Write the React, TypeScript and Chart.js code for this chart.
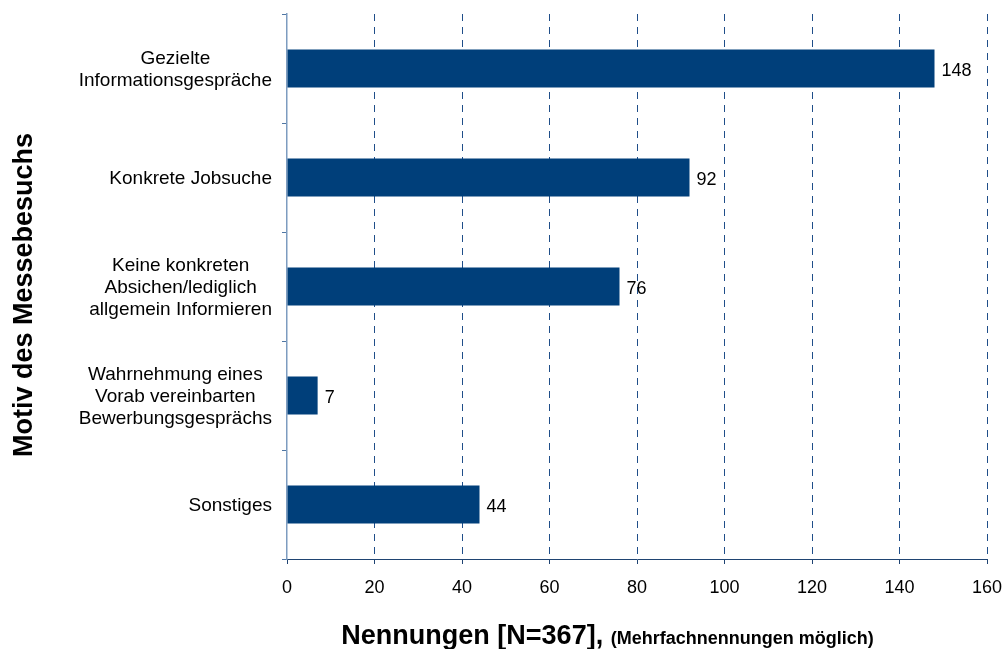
import React, { useEffect, useRef } from "react";
import { Chart, registerables } from "chart.js";

Chart.register(...registerables);

const categories: string[][] = [
  ["Gezielte", "Informationsgespräche"],
  ["Konkrete Jobsuche"],
  ["Keine konkreten", "Absichen/lediglich", "allgemein Informieren"],
  ["Wahrnehmung eines", "Vorab vereinbarten", "Bewerbungsgesprächs"],
  ["Sonstiges"],
];
const values: number[] = [148, 92, 76, 7, 44];
const xMin = 0;
const xMax = 160;
const xStep = 20;
const xTitleMain = "Nennungen [N=367],";
const xTitleNote = "(Mehrfachnennungen möglich)";
const yTitle = "Motiv des Messebesuchs";

const FONT = '"Liberation Sans", Arial, sans-serif';
const BAR = "#003F7A";

const overlay = {
  id: "overlay",
  afterDraw(chart: any) {
    const ctx = chart.ctx as CanvasRenderingContext2D;
    const yScale = chart.scales.y;
    ctx.save();
    ctx.fillStyle = "#000";

    // category labels: block right-aligned, lines centered
    ctx.font = `19px ${FONT}`;
    ctx.textBaseline = "middle";
    ctx.textAlign = "center";
    const rightEdge = 272;
    const lh = 22;
    categories.forEach((lines, i) => {
      const yc = yScale.getPixelForValue(i);
      const w = Math.max(...lines.map((l) => ctx.measureText(l).width));
      const cx = rightEdge - w / 2;
      const y0 = yc - ((lines.length - 1) * lh) / 2;
      lines.forEach((l, j) => ctx.fillText(l, cx, y0 + j * lh + 1));
    });

    // data labels
    ctx.font = `18px ${FONT}`;
    ctx.textAlign = "left";
    const meta = chart.getDatasetMeta(0);
    meta.data.forEach((bar: any, i: number) => {
      ctx.fillText(String(values[i]), bar.x + 7, bar.y + 3);
    });

    // x title (mixed sizes)
    const bigFont = `bold 27px ${FONT}`;
    const smallFont = `bold 18px ${FONT}`;
    ctx.font = bigFont;
    const wBig = ctx.measureText(xTitleMain + " ").width;
    ctx.font = smallFont;
    const wSmall = ctx.measureText(xTitleNote).width;
    const startX = 607.5 - (wBig + wSmall) / 2;
    ctx.textBaseline = "alphabetic";
    ctx.font = bigFont;
    ctx.fillText(xTitleMain + " ", startX, 644);
    ctx.font = smallFont;
    ctx.fillText(xTitleNote, startX + wBig, 644);

    // y title
    ctx.translate(25, 295);
    ctx.rotate(-Math.PI / 2);
    ctx.font = `bold 27px ${FONT}`;
    ctx.textAlign = "center";
    ctx.textBaseline = "middle";
    ctx.fillText(yTitle, 0, 0);
    ctx.restore();
  },
};

export default function App() {
  const ref = useRef<HTMLCanvasElement | null>(null);
  useEffect(() => {
    if (!ref.current) return;
    const chart = new Chart(ref.current, {
      type: "bar",
      data: {
        labels: categories.map((c) => c.join(" ")),
        datasets: [
          {
            data: values,
            backgroundColor: BAR,
            borderWidth: 0,
            barPercentage: 0.35,
            categoryPercentage: 1,
          },
        ],
      },
      options: {
        indexAxis: "y",
        responsive: false,
        animation: false,
        devicePixelRatio: 1,
        layout: { padding: { top: 14, right: 18, left: 0, bottom: 0 } },
        plugins: {
          legend: { display: false },
          tooltip: { enabled: false },
          title: { display: false },
        },
        scales: {
          x: {
            type: "linear",
            position: "bottom",
            min: xMin,
            max: xMax,
            ticks: {
              stepSize: xStep,
              color: "#000",
              font: { family: FONT, size: 18 },
              padding: 13,
              maxRotation: 0,
            },
            grid: {
              color: (c: any) => (c.index === 0 ? "rgba(0,0,0,0)" : "#1F4E89"),
              tickColor: "#1F4472",
              tickLength: 5,
              lineWidth: 1,
              tickWidth: 1,
            },
            border: { color: "#1F4472", width: 1, dash: [7, 6] },
            afterFit: (s: any) => {
              s.height = 90;
              s.paddingLeft = 0;
              s.paddingRight = 0;
            },
          },
          y: {
            type: "category",
            offset: true,
            ticks: { display: false },
            grid: {
              offset: true,
              drawOnChartArea: false,
              drawTicks: true,
              tickLength: 5,
              tickColor: "#4F76A3",
              color: "#4F76A3",
            },
            border: { color: "#7D9CC0", width: 1.5 },
            afterFit: (s: any) => {
              s.width = 287;
              s.paddingTop = 0;
              s.paddingBottom = 0;
            },
          },
        },
      },
      plugins: [overlay],
    });
    return () => chart.destroy();
  }, []);
  return (
    <div style={{ position: "fixed", left: 0, top: 0, width: 1005, height: 649, background: "#fff" }}>
      <canvas ref={ref} width={1005} height={649} style={{ display: "block" }} />
    </div>
  );
}
